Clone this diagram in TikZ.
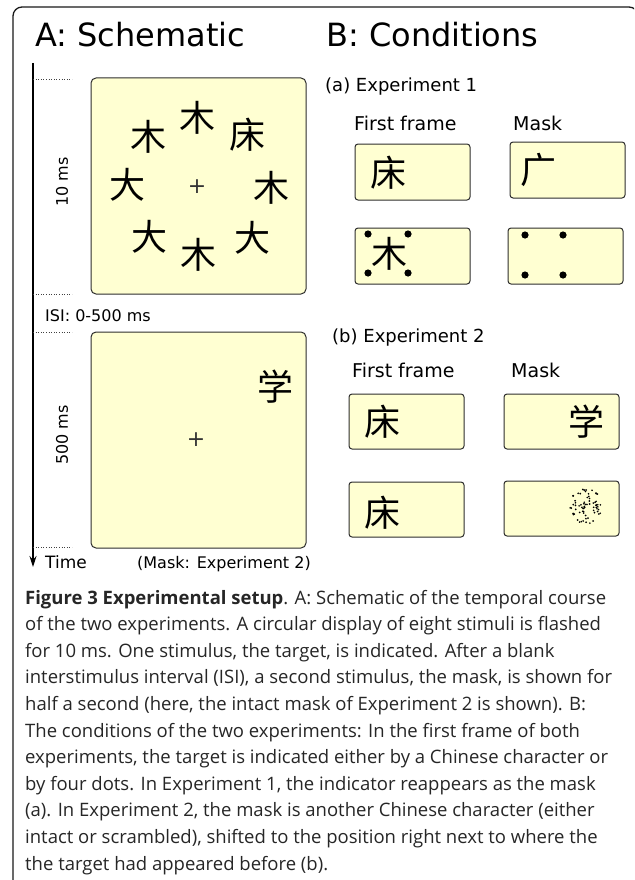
\documentclass[tikz,border=0pt]{standalone}
\usepackage{fontspec}
\setmainfont{DejaVu Sans}
\newfontfamily\capfont{Open Sans}
\newfontfamily\cjk{Noto Sans CJK SC}
\usetikzlibrary{arrows.meta}
\definecolor{boxfill}{RGB}{255,255,210}
\definecolor{boxline}{RGB}{45,45,45}
\begin{document}
\begin{tikzpicture}[x=1pt,y=-1pt,
  panel/.style={draw=boxline, fill=boxfill, line width=1pt, rounded corners=3pt, inner sep=0pt},
  bigpanel/.style={panel, rounded corners=5pt, minimum width=215pt, minimum height=216pt},
  smallpanel/.style={panel, minimum width=115pt, minimum height=56pt},
  title/.style={font=\fontsize{32}{36}\selectfont, inner sep=0pt, anchor=base west},
  head/.style={font=\fontsize{18}{22}\selectfont, inner sep=0pt, anchor=base west},
  sub/.style={font=\fontsize{19}{22}\selectfont, inner sep=0pt, anchor=base west},
  small/.style={font=\fontsize{16}{20}\selectfont, inner sep=0pt},
  hz/.style={font=\cjk\fontsize{36}{36}\selectfont, inner sep=0pt},
  tickline/.style={dotted, line width=0.6pt, black!75},
  fix/.style={font=\fontsize{22}{22}\selectfont, inner sep=0pt, text=black!80},
]
\useasboundingbox (0,0) rectangle (634,880);
\clip (0,0) rectangle (634,880);
% outer frame
\draw[line width=1.3pt, black!90, rounded corners=9pt] (13,7) rectangle (638,895);

% titles
\node[title] (tA) at (35,47) {A: Schematic};
\node[title] (tB) at (326,47) {B: Conditions};

% time axis
\coordinate (ttop) at (33,63);
\coordinate (tend) at (33,567);
\draw[line width=1.2pt, -{Stealth[length=11pt,width=7pt]}] (ttop) -- (tend);
\draw[tickline] (33,79) -- (72,79);
\draw[tickline] (33,294) -- (72,294);
\draw[tickline] (33,332) -- (72,332);
\draw[tickline] (33,547) -- (72,547);
\node[small, rotate=90] (l10) at (62,182) {10 ms};
\node[small, rotate=90] (l500) at (62,435) {500 ms};
\node[small, anchor=base west] (isi) at (45,321) {ISI: 0-500 ms};
\node[font=\fontsize{17}{20}\selectfont, inner sep=0pt, anchor=base west] (time) at (45,568) {Time};
\node[small, anchor=base west] (maskexp) at (137,568) {(Mask: Experiment 2)};

% panel A boxes
\node[bigpanel] (box1) at (198.5,186) {};
\node[bigpanel] (box2) at (198.5,440) {};
\node[fix] (fix1) at (197,187) {+};
\node[fix] (fix2) at (196,440) {+};
\node[hz] (c1) at (197,118) {木};
\node[hz] (c2) at (247,135) {床};
\node[hz] (c3) at (271,188) {木};
\node[hz] (c4) at (252,238) {大};
\node[hz] (c5) at (198,255) {木};
\node[hz] (c6) at (149,237) {大};
\node[hz] (c7) at (127,185) {大};
\node[hz] (c8) at (148,137) {木};
\node[hz] (c9) at (275,387) {学};

% panel B, experiment 1
\node[head] (e1) at (325,92) {(a) Experiment 1};
\node[sub] (ff1) at (354,130) {First frame};
\node[sub] (mk1) at (513,130) {Mask};
\node[smallpanel] (a1) at (412.5,172) {};
\node[smallpanel] (a2) at (567.5,170) {};
\node[smallpanel] (a3) at (412.5,256) {};
\node[smallpanel] (a4) at (565.5,256) {};
\node[hz] (ca1) at (388,173) {床};
\node[hz] (ca2) at (538,170) {广};
\node[hz] (ca3) at (389,254) {木};
\foreach \p in {(368,234),(408,234),(368,273),(408,273),(525,235),(563,235),(525,275),(563,275)}
  \fill \p circle (3.6pt);

% panel B, experiment 2
\node[head] (e2) at (332,342) {(b) Experiment 2};
\node[sub] (ff2) at (352,377) {First frame};
\node[sub] (mk2) at (511,377) {Mask};
\node[smallpanel, minimum height=55pt] (b1) at (406.5,421.5) {};
\node[smallpanel, minimum height=55pt] (b2) at (561.5,421.5) {};
\node[smallpanel, minimum height=55pt] (b3) at (406.5,509.5) {};
\node[smallpanel, minimum height=55pt] (b4) at (561.5,508.5) {};
\node[hz] (cb1) at (382,422) {床};
\node[hz] (cb2) at (586,422) {学};
\node[hz] (cb3) at (382,513) {床};
\pgfmathsetseed{23}
\foreach \i in {1,...,70}{
  \pgfmathsetmacro\rr{sqrt(rnd)}
  \pgfmathsetmacro\aa{360*rnd}
  \pgfmathsetmacro\dx{16*\rr*cos(\aa)}
  \pgfmathsetmacro\dy{19*\rr*sin(\aa)}
  \fill (586+\dx,506+\dy) circle (0.95pt);
}

% caption (base anchor = last line)
\node[inner sep=0pt, anchor=base west, align=left, text=black!85,
      font=\capfont\fontsize{18.5}{26.6}\selectfont] (cap) at (25,870)
{\textbf{Figure 3 Experimental setup}. A: Schematic of the temporal course\\
of the two experiments. A circular display of eight stimuli is flashed\\
for 10 ms. One stimulus, the target, is indicated. After a blank\\
interstimulus interval (ISI), a second stimulus, the mask, is shown for\\
half a second (here, the intact mask of Experiment 2 is shown). B:\\
The conditions of the two experiments: In the first frame of both\\
experiments, the target is indicated either by a Chinese character or\\
by four dots. In Experiment 1, the indicator reappears as the mask\\
(a). In Experiment 2, the mask is another Chinese character (either\\
intact or scrambled), shifted to the position right next to where the\\
the target had appeared before (b).};
\end{tikzpicture}
\end{document}
